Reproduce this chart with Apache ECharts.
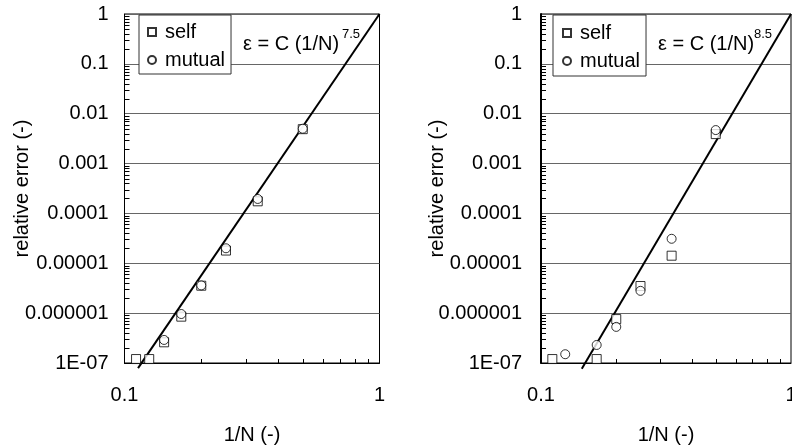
<!DOCTYPE html>
<html><head><meta charset="utf-8">
<script src="https://cdn.jsdelivr.net/npm/echarts@6/dist/echarts.min.js"></script>
<style>html,body{margin:0;padding:0;background:#fff}#c{width:792px;height:445px}</style>
</head><body><div id="c"></div>
<script>
// x values: 1/N for N = 9..2
const invN = [0.111, 0.125, 0.143, 0.167, 0.2, 0.25, 0.333, 0.5];
// left panel
const selfLeft   = [1.2e-7, 1.2e-7, 2.6e-7, 8.5e-7, 3.55e-6, 1.8e-5, 1.75e-4, 4.9e-3];
const mutualLeft = [null,   null,   2.9e-7, 9.6e-7, 3.6e-6,  2.0e-5, 1.95e-4, 5.0e-3];
// right panel
const selfRight   = [1.2e-7, null,   null, 1.2e-7, 7.6e-7, 3.5e-6, 1.42e-5, 3.9e-3];
const mutualRight = [null,   1.5e-7, null, 2.3e-7, 5.3e-7, 2.8e-6, 3.1e-5,  4.7e-3];
// fitted lines (end points)
const fitLeftX  = [0.113, 1];
const fitLeftY  = [7.9e-8, 1];
const fitRightX = [0.1456, 1];
const fitRightY = [7.7e-8, 1];
// tick labels
const yTickLabels = ['1E-07','0.000001','0.00001','0.0001','0.001','0.01','0.1','1'];
const xTickLabels = ['0.1','1'];
const xMinor = [0.2,0.3,0.4,0.5,0.6,0.7,0.8,0.9];
const mantissas = [2,3,4,5,6,7,8,9];
const decades = [1e-7,1e-6,1e-5,1e-4,1e-3,1e-2,1e-1];
const yMinor = [];
decades.forEach(d => mantissas.forEach(m => yMinor.push(+(m*d).toPrecision(3))));

const FONT = '"Liberation Sans", Arial, Helvetica, sans-serif';
const pairs = (xs, ys) => xs.map((x,i)=>[x, ys[i]]).filter(p => p[1] != null);

const chart = echarts.init(document.getElementById('c'), null, {renderer:'canvas'});

function yAxisDef(gi, margin, nameGap, lw){
  return {
    type:'log', logBase:10, min:1e-7, max:1, gridIndex:gi,
    name:'relative error (-)', nameLocation:'middle', nameGap:nameGap, nameRotate:90, nameMoveOverlap:false,
    nameTextStyle:{fontFamily:FONT, fontSize:20, color:'#000'},
    axisLine:{show:true, lineStyle:{color:'#000', width:lw}},
    axisTick:{show:false},
    axisLabel:{fontFamily:FONT, fontSize:20, color:'#000', margin:margin, showMinLabel:true, showMaxLabel:true, interval:0,
      formatter: v => yTickLabels[Math.round(Math.log10(v)) + 7]},
    splitLine:{show:true, lineStyle:{color:'#666', width:1}}
  };
}
function xAxisDef(gi){
  return {
    type:'log', logBase:10, min:0.1, max:1, gridIndex:gi,
    name:'1/N (-)', nameLocation:'middle', nameGap:62, nameMoveOverlap:false,
    nameTextStyle:{fontFamily:FONT, fontSize:20, color:'#000'},
    axisLine:{show:true, lineStyle:{color:'#000', width:1}},
    axisTick:{show:false},
    axisLabel:{fontFamily:FONT, fontSize:20, color:'#000', margin:22, showMinLabel:true, showMaxLabel:true,
      formatter: v => xTickLabels[Math.round(Math.log10(v)) + 1]},
    splitLine:{show:false}
  };
}
const markerStyle = {color:'#fff', borderColor:'#000', borderWidth:1};
function scatter(name, gi, data, symbol){
  return {type:'scatter', name:name, xAxisIndex:gi, yAxisIndex:gi, data:data,
    symbol:symbol, symbolSize:9, itemStyle:markerStyle, z:5};
}
function fit(gi, xs, ys){
  return {type:'line', xAxisIndex:gi, yAxisIndex:gi, data:pairs(xs, ys), showSymbol:false, symbol:'none',
    clip:false, lineStyle:{color:'#000', width:2}, z:3, silent:true};
}
function legendDef(left, top, pad){
  return {show:true, orient:'vertical', left:left, top:top, padding:pad, itemGap:8,
    itemWidth:8, itemHeight:8, backgroundColor:'#fff', borderColor:'#333', borderWidth:1,
    textStyle:{fontFamily:FONT, fontSize:20, color:'#000', lineHeight:20, padding:[0,0,0,4]},
    data:[{name:'self', icon:'rect'},{name:'mutual', icon:'circle'}]};
}

const textGraphics = [
  {type:'text', left:243, top:34, style:{text:'ε = C (1/N)', font:'20px ' + FONT, fill:'#000'}},
  {type:'text', left:342, top:28, style:{text:'7.5', font:'13px ' + FONT, fill:'#000'}},
  {type:'text', left:658, top:34, style:{text:'ε = C (1/N)', font:'20px ' + FONT, fill:'#000'}},
  {type:'text', left:754, top:28, style:{text:'8.5', font:'13px ' + FONT, fill:'#000'}}
];

chart.setOption({
  animation:false,
  backgroundColor:'#fff',
  grid:[
    {left:124.5, top:14, width:255, height:349, show:true, borderColor:'#000', borderWidth:1, backgroundColor:'transparent', containLabel:false, outerBoundsMode:'none'},
    {left:541, top:14, width:250, height:349, show:true, borderColor:'#000', borderWidth:1, backgroundColor:'transparent', containLabel:false, outerBoundsMode:'none'}
  ],
  xAxis:[xAxisDef(0), xAxisDef(1)],
  yAxis:[yAxisDef(0, 16, 92, 1), yAxisDef(1, 19, 94, 2)],
  legend:[legendDef(139, 15, [7,6,4,8]), legendDef(553, 15, [8,6,5,9])],
  graphic: textGraphics,
  series:[
    fit(0, fitLeftX, fitLeftY),
    fit(1, fitRightX, fitRightY),
    scatter('self', 0, pairs(invN, selfLeft), 'rect'),
    scatter('mutual', 0, pairs(invN, mutualLeft), 'circle'),
    scatter('self', 1, pairs(invN, selfRight), 'rect'),
    scatter('mutual', 1, pairs(invN, mutualRight), 'circle')
  ]
});

// minor tick marks, placed through the axes' own log scales
const tickEls = [];
[0, 1].forEach(gi => {
  xMinor.forEach(v => {
    const p = chart.convertToPixel({gridIndex:gi}, [v, 1e-7]);
    tickEls.push({type:'line', silent:true, z:100, shape:{x1:Math.round(p[0])+0.5, y1:p[1], x2:Math.round(p[0])+0.5, y2:p[1]-4}, style:{stroke:'#000', lineWidth:1}});
  });
  yMinor.forEach(v => {
    const p = chart.convertToPixel({gridIndex:gi}, [0.1, v]);
    tickEls.push({type:'line', silent:true, z:100, shape:{x1:p[0], y1:Math.round(p[1])+0.5, x2:p[0]+5, y2:Math.round(p[1])+0.5}, style:{stroke:'#000', lineWidth:1}});
  });
});
chart.setOption({graphic: textGraphics.concat(tickEls)});
</script></body></html>
